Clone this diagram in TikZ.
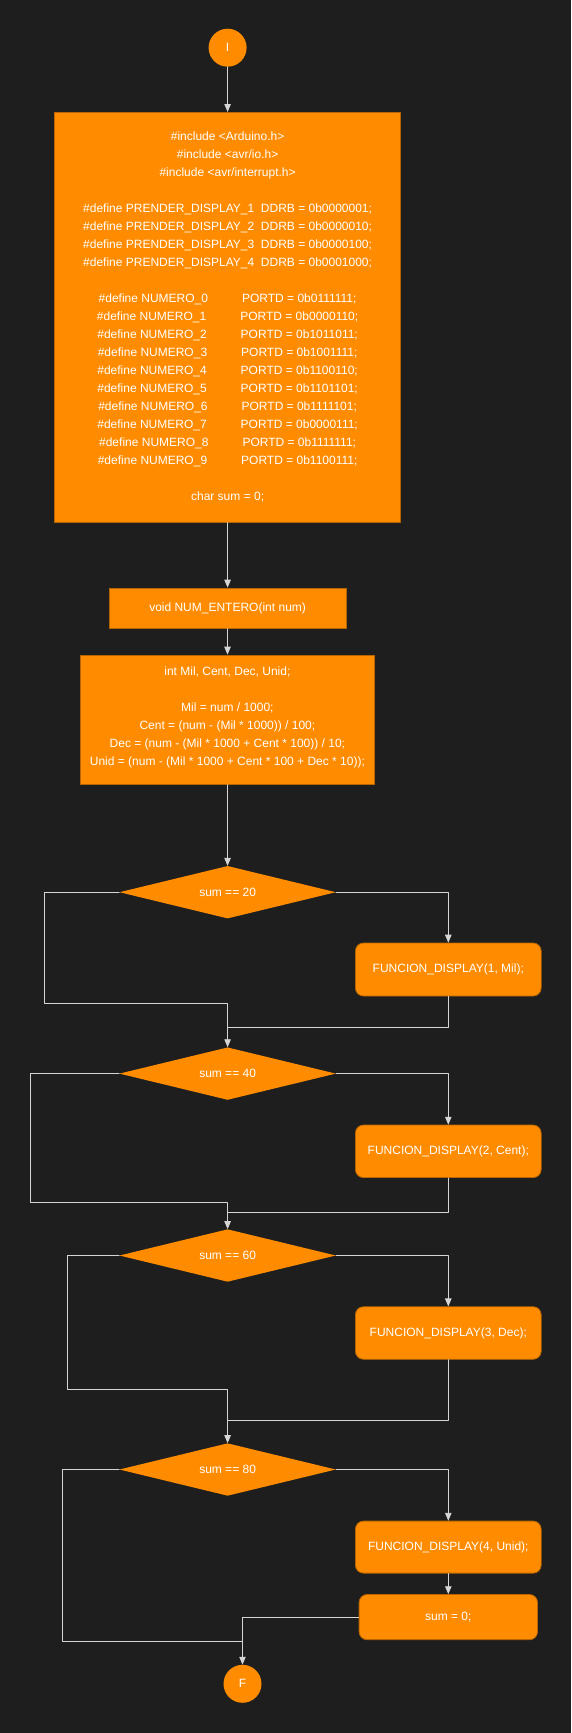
\documentclass[tikz,border=0pt]{standalone}
\usepackage{fontspec}
\setmainfont{Liberation Sans}
\usetikzlibrary{arrows}
\usetikzlibrary{positioning}
\usetikzlibrary{shapes.geometric}
\definecolor{bgdark}{HTML}{1E1E1E}
\definecolor{flowfill}{HTML}{FF8C00}
\definecolor{flowedge}{HTML}{B86500}
\definecolor{wirecol}{HTML}{D6D6D6}
\begin{document}
\begin{tikzpicture}[line cap=round,line join=round,>=triangle 45,x=1pt,y=-1pt,
  font=\fontsize{12}{18}\selectfont,
  box/.style={rectangle,fill=flowfill,draw=flowedge,line width=0.8pt,text=white,align=center,inner sep=0pt},
  roundbox/.style={box,rounded corners=8pt},
  decision/.style={diamond,aspect=4.1,fill=flowfill,text=white,inner sep=0pt,minimum width=216.4pt,minimum height=52.5pt},
  terminal/.style={circle,fill=flowfill,text=white,inner sep=0pt,minimum size=38pt},
  wire/.style={draw=wirecol,line width=0.8pt}]
\useasboundingbox (0,0) rectangle (571,1733);
\fill [color=bgdark] (0,0) rectangle (571,1733);
% inicio y declaraciones
\node[terminal] (start) at (227.6,47.7) {I};
\node[box,minimum width=346pt,minimum height=409.8pt] (decl) at (227.6,317.2) {%
\#include <Arduino.h>\\
\#include <avr/io.h>\\
\#include <avr/interrupt.h>\\[18pt]
\#define PRENDER\_DISPLAY\_1\hspace{6.6pt}DDRB = 0b0000001;\\
\#define PRENDER\_DISPLAY\_2\hspace{6.6pt}DDRB = 0b0000010;\\
\#define PRENDER\_DISPLAY\_3\hspace{6.6pt}DDRB = 0b0000100;\\
\#define PRENDER\_DISPLAY\_4\hspace{6.6pt}DDRB = 0b0001000;\\[18pt]
\#define NUMERO\_0\hspace{34pt}PORTD = 0b0111111;\\
\#define NUMERO\_1\hspace{34pt}PORTD = 0b0000110;\\
\#define NUMERO\_2\hspace{34pt}PORTD = 0b1011011;\\
\#define NUMERO\_3\hspace{34pt}PORTD = 0b1001111;\\
\#define NUMERO\_4\hspace{34pt}PORTD = 0b1100110;\\
\#define NUMERO\_5\hspace{34pt}PORTD = 0b1101101;\\
\#define NUMERO\_6\hspace{34pt}PORTD = 0b1111101;\\
\#define NUMERO\_7\hspace{34pt}PORTD = 0b0000111;\\
\#define NUMERO\_8\hspace{34pt}PORTD = 0b1111111;\\
\#define NUMERO\_9\hspace{34pt}PORTD = 0b1100111;\\[18pt]
char sum = 0;};
\node[box,minimum width=236.8pt,minimum height=40.3pt] (func) at (227.6,608.1) {void NUM\_ENTERO(int num)};
\node[box,minimum width=293.2pt,minimum height=129.3pt] (calc) at (227.4,719.6) {%
int Mil, Cent, Dec, Unid;\\[18pt]
Mil = num / 1000;\\
Cent = (num - (Mil * 1000)) / 100;\\
Dec = (num - (Mil * 1000 + Cent * 100)) / 10;\\
Unid = (num - (Mil * 1000 + Cent * 100 + Dec * 10));\\[-12pt]};
% decisiones
\node[decision] (d20) at (227.6,892.2) {sum == 20};
\node[roundbox,minimum width=185.7pt,minimum height=53pt] (disp1) at (448.3,969.5) {FUNCION\_DISPLAY(1, Mil);};
\node[decision] (d40) at (227.6,1073.6) {sum == 40};
\node[roundbox,minimum width=185.7pt,minimum height=52.5pt] (disp2) at (448.3,1151.3) {FUNCION\_DISPLAY(2, Cent);};
\node[decision] (d60) at (227.6,1255.5) {sum == 60};
\node[roundbox,minimum width=185.7pt,minimum height=52.5pt] (disp3) at (448.3,1333) {FUNCION\_DISPLAY(3, Dec);};
\node[decision] (d80) at (227.6,1469.5) {sum == 80};
\node[roundbox,minimum width=185.7pt,minimum height=52pt] (disp4) at (448.3,1547.1) {FUNCION\_DISPLAY(4, Unid);};
\node[roundbox,minimum width=178.4pt,minimum height=45.2pt] (reset) at (448.3,1617.1) {sum = 0;};
\node[terminal] (fin) at (242.5,1683.8) {F};
% uniones
\coordinate (j20l) at (44.4,1002.9);
\coordinate (j20r) at (227.6,1027.5);
\coordinate (j40l) at (30.6,1202.5);
\coordinate (j40r) at (227.6,1212.6);
\coordinate (j60l) at (67.4,1389);
\coordinate (j60r) at (227.6,1420.5);
\coordinate (j80l) at (62.3,1641.4);
\coordinate (j80r) at (242.5,1641.4);
% flechas
\draw[wire,->] (start) -- (decl);
\draw[wire,->] (decl) -- (func);
\draw[wire,->] (func) -- (calc);
\draw[wire,->] (calc) -- (d20);
\draw[wire,->] (d20.east) -| (disp1.north);
\draw[wire] (d20.west) -| (j20l) -| (j20r);
\draw[wire] (disp1.south) |- (j20r);
\draw[wire,->] (j20r) -- (d40.north);
\draw[wire,->] (d40.east) -| (disp2.north);
\draw[wire] (d40.west) -| (j40l) -| (j40r);
\draw[wire] (disp2.south) |- (j40r);
\draw[wire,->] (j40r) -- (d60.north);
\draw[wire,->] (d60.east) -| (disp3.north);
\draw[wire] (d60.west) -| (j60l) -| (j60r);
\draw[wire] (disp3.south) |- (j60r);
\draw[wire,->] (j60r) -- (d80.north);
\draw[wire,->] (d80.east) -| (disp4.north);
\draw[wire,->] (disp4) -- (reset);
\draw[wire] (d80.west) -| (j80l) -- (j80r);
\draw[wire,->] (reset.west) -| (fin.north);
\end{tikzpicture}
\end{document}
